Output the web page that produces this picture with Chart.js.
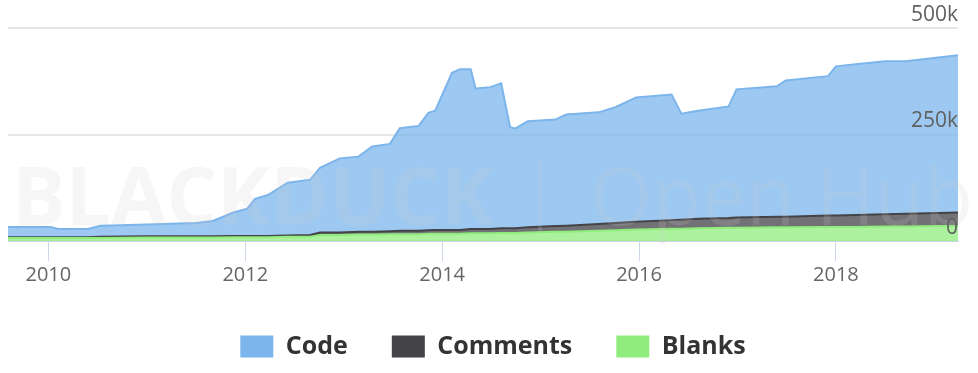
<!DOCTYPE html>
<html>
<head>
  <title>Lines of Code</title>
  <script src="https://cdn.jsdelivr.net/npm/chart.js"></script>
  <style>
    html, body { margin: 0; padding: 0; background: #fff; }
    #wrap { width: 978px; height: 373px; }
  </style>
</head>
<body>
  <div id="wrap"><canvas id="loc-chart"></canvas></div>
  <script>
    // dates as decimal years, values in thousands of lines
    const years = [2009.59, 2010.02, 2010.10, 2010.40, 2010.53, 2011.00, 2011.50, 2011.67, 2011.88, 2012.02,
      2012.10, 2012.23, 2012.43, 2012.66, 2012.76, 2012.96, 2013.15, 2013.29, 2013.47, 2013.57,
      2013.76, 2013.86, 2013.93, 2014.10, 2014.18, 2014.29, 2014.34, 2014.49, 2014.60, 2014.69,
      2014.74, 2014.87, 2015.15, 2015.26, 2015.59, 2015.76, 2015.97, 2016.33, 2016.43, 2016.60,
      2016.91, 2016.99, 2017.40, 2017.49, 2017.92, 2018.00, 2018.20, 2018.50, 2018.71, 2019.04, 2019.24];
    const code = [24, 24, 19, 19, 26, 28, 31, 36, 55, 64,
      87, 96, 124, 130, 152, 174, 176, 200, 205, 241,
      246, 276, 280, 369, 377, 375, 330, 333, 340, 237,
      234, 249, 250, 261, 262, 272, 292, 295, 249, 254,
      262, 301, 306, 320, 327, 350, 354, 359, 358, 365, 369];
    const comments = [2, 2, 2, 2, 3, 3, 3, 3, 3, 3,
      3, 3, 3, 4, 6, 6, 7, 7, 7, 8,
      8, 8, 9, 9, 9, 10, 10, 10, 11, 11,
      11, 12, 13, 14, 16, 17, 18, 20, 21, 22,
      23, 24, 25, 25, 27, 27, 28, 29, 30, 31, 32];
    const blanks = [7, 7, 7, 7, 7, 8, 8, 8, 9, 9,
      9, 9, 10, 10, 14, 14, 15, 15, 16, 16,
      16, 17, 17, 17, 17, 18, 18, 18, 19, 19,
      19, 20, 22, 22, 24, 25, 27, 29, 29, 30,
      31, 31, 32, 32, 33, 33, 33, 34, 34, 35, 35];
    const yearTicks = [2010, 2012, 2014, 2016, 2018];
    const yTicks = [0, 250, 500];

    const pts = arr => years.map((x, i) => ({ x: x, y: arr[i] }));

    // faint watermark over the areas
    const watermark = {
      id: 'watermark',
      afterDatasetsDraw(chart) {
        const ctx = chart.ctx;
        ctx.save();
        ctx.fillStyle = 'rgba(200,200,200,0.17)';
        ctx.textBaseline = 'alphabetic';
        ctx.font = 'bold 80px "Open Sans"';
        ctx.fillText('BLACKDUCK', 12, 225);
        ctx.fillRect(538, 160, 4, 72);
        ctx.font = '80px "Open Sans"';
        ctx.fillText('Open Hub', 590, 225);
        ctx.restore();
      }
    };

    const ctx = document.getElementById('loc-chart').getContext('2d');
    new Chart(ctx, {
      type: 'line',
      data: {
        datasets: [
          {
            label: 'Blanks',
            data: pts(blanks),
            backgroundColor: 'rgba(144, 237, 125, 0.75)',
            borderColor: '#90ed7d',
            borderWidth: 2,
            fill: 'origin',
          },
          {
            label: 'Comments',
            data: pts(comments),
            backgroundColor: 'rgba(67, 67, 72, 0.75)',
            borderColor: '#434348',
            borderWidth: 2,
            fill: '-1',
          },
          {
            label: 'Code',
            data: pts(code),
            backgroundColor: 'rgba(124, 181, 236, 0.75)',
            borderColor: '#7cb5ec',
            borderWidth: 2,
            fill: '-1',
          },
        ],
      },
      options: {
        responsive: true,
        maintainAspectRatio: false,
        animation: false,
        elements: { point: { radius: 0 }, line: { tension: 0 } },
        layout: { padding: { top: 28, left: 8, right: 0, bottom: 4 } },
        scales: {
          x: {
            type: 'linear',
            min: 2009.59,
            max: 2019.24,
            afterBuildTicks: axis => { axis.ticks = yearTicks.map(v => ({ value: v })); },
            ticks: {
              callback: v => String(v),
              color: '#666',
              font: { family: 'Open Sans', size: 20, lineHeight: 1.25 },
              padding: 2,
              maxRotation: 0,
            },
            grid: { drawOnChartArea: false, tickLength: 20, color: '#ccd6eb' },
            border: { color: '#ccd6eb' },
          },
          y: {
            position: 'right',
            stacked: true,
            min: 0,
            max: 500,
            afterBuildTicks: axis => { axis.ticks = yTicks.map(v => ({ value: v })); },
            afterFit: axis => { axis.width = 20; },
            ticks: {
              z: 1,
              mirror: true,
              labelOffset: -13,
              padding: 0,
              color: '#606060',
              font: { family: 'Open Sans', size: 21 },
              callback: v => (v === 0 ? '0' : v + 'k'),
            },
            grid: { drawTicks: false, color: '#e6e6e6', lineWidth: 2 },
            border: { display: false },
          },
        },
        plugins: {
          tooltip: { enabled: false },
          legend: {
            position: 'bottom',
            reverse: true,
            labels: {
              boxWidth: 33,
              boxHeight: 22,
              padding: 44,
              color: '#333',
              font: { family: 'Open Sans', size: 25, weight: 'bold' },
              generateLabels: chart => Chart.defaults.plugins.legend.labels.generateLabels(chart)
                .map(l => Object.assign(l, { fillStyle: chart.data.datasets[l.datasetIndex].borderColor, lineWidth: 0 })),
            },
          },
        },
      },
      plugins: [watermark],
    });
  </script>
</body>
</html>
